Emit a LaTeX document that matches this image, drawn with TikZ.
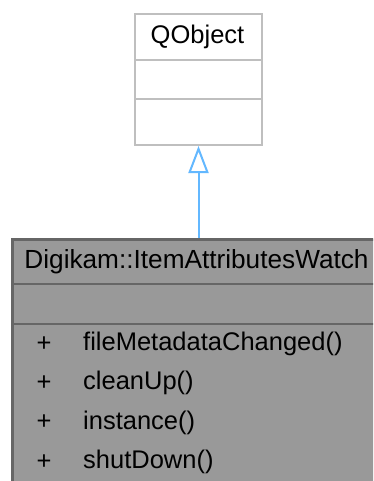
\documentclass[tikz,border=0pt]{standalone}
\usepackage{fontspec}
\setmainfont{Liberation Sans}
\usetikzlibrary{arrows.meta}

\definecolor{basefill}{RGB}{255,255,255}
\definecolor{baseedge}{RGB}{191,191,191}
\definecolor{classfill}{RGB}{153,153,153}
\definecolor{classedge}{RGB}{102,102,102}
\definecolor{inherit}{RGB}{99,184,255}

\tikzset{
  umltext/.style={font=\fontsize{25.5}{30}\selectfont, inner sep=0pt, text=black},
  basebox/.style={draw=baseedge, fill=basefill, line width=2pt, inner sep=0pt},
  classbox/.style={draw=classedge, fill=classfill, line width=2.5pt, inner sep=0pt},
}

\begin{document}
\begin{tikzpicture}[x=1pt, y=-1pt]

  \useasboundingbox (0,0) rectangle (373,481);
  \clip (0,0) rectangle (373,481);
  \fill[white] (0,0) rectangle (373,481);

  % the base class, no attributes and no methods
  \node[basebox, minimum width=127pt, minimum height=131pt, anchor=north west] (qobject) at (134,13) {};
  \draw[baseedge, line width=2pt] (134,60) -- (261,60);
  \draw[baseedge, line width=2pt] (134,99) -- (261,99);
  \node[umltext] (qobjectname) at (197.5,37) {QObject};

  % the documented class, runs off the right and bottom edge
  \node[classbox, minimum width=371pt, minimum height=270pt, anchor=north west] (watch) at (11,238) {};
  \draw[classedge, line width=2.5pt] (11,284) -- (390,284);
  \draw[classedge, line width=2.5pt] (11,324) -- (390,324);
  \node[umltext, font=\fontsize{26.2}{30}\selectfont] (watchname) at (196.5,262) {Digikam::ItemAttributesWatch};

  % public methods
  \foreach \m [count=\i] in {fileMetadataChanged(),cleanUp(),instance(),shutDown()}{
    \node[umltext] (plus\i) at (44,{344+39.3*(\i-1)}) {+};
    \node[umltext, anchor=west] (method\i) at (83,{344+39.3*(\i-1)}) {\m};
  }

  % inheritance
  \draw[inherit, line width=2pt, -{Triangle[open, width=20pt, length=27pt, fill=white]}]
    (watch.north -| qobject.south) -- (qobject.south);

\end{tikzpicture}
\end{document}
